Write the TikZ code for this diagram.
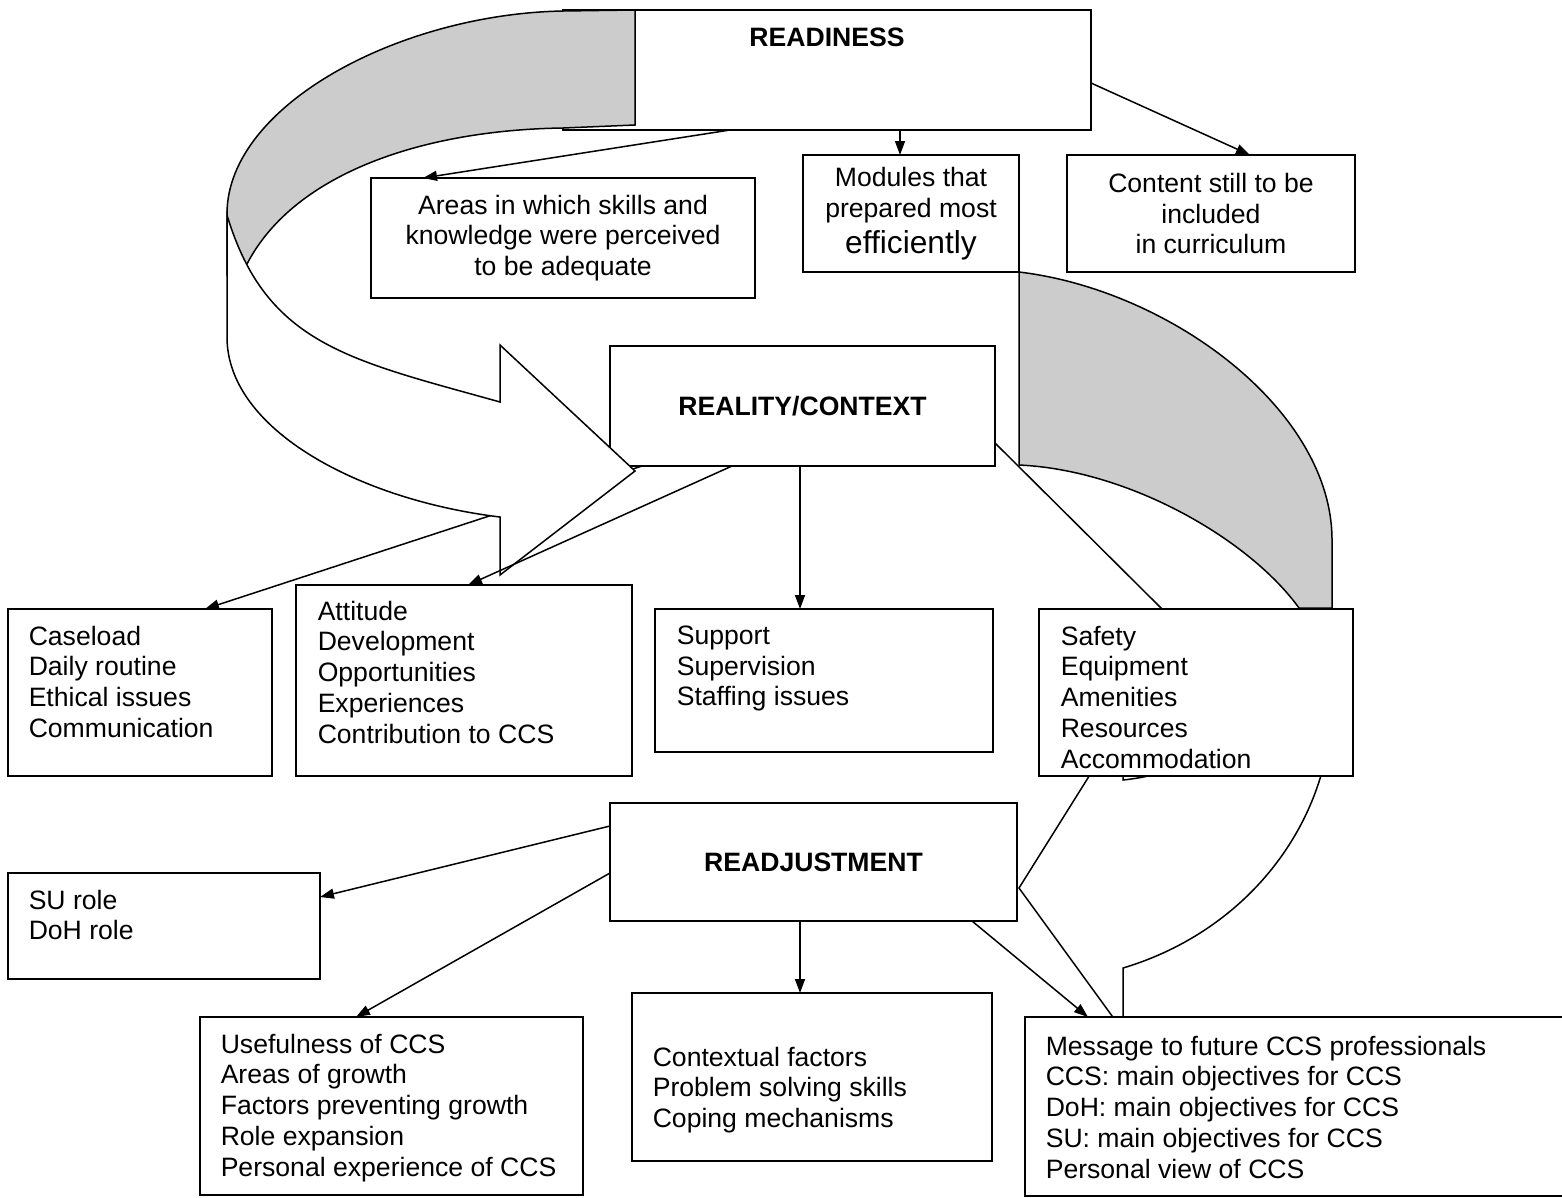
\documentclass[tikz,border=0pt]{standalone}
\usepackage{fontspec}
\setmainfont{Liberation Sans}
\usepackage{xcolor}
\usetikzlibrary{arrows.meta,positioning}
\pgfdeclarelayer{background}
\pgfdeclarelayer{foreground}
\pgfsetlayers{background,main,foreground}
\definecolor{bandgray}{gray}{0.8}
\newcommand{\txt}{\fontsize{26.6pt}{30.8pt}\selectfont}

\begin{document}
\begin{tikzpicture}[x=1pt, y=-1pt, line width=1.5pt,
  box/.style={draw, fill=white, inner sep=0pt, outer sep=0pt,
    align=center, font=\txt},
  hdr/.style={box, font=\txt\bfseries},
  list/.style={inner sep=0pt, align=left, font=\txt},
  arr/.style={line width=1.5pt, -{Triangle[length=14pt, width=10pt]}},
  band/.style={draw, line width=1.5pt, fill=bandgray},
  face/.style={draw, line width=1.5pt, fill=white},
]
  \useasboundingbox (0,0) rectangle (1562,1197);

  % top level
  \node[box, minimum width=528pt, minimum height=120pt] (rd) at (827,70) {};
  \node[font=\txt\bfseries, inner sep=0pt] (rdT) at ([yshift=-27pt]rd.north)
    {READINESS};
  \node[box, minimum width=384pt, minimum height=120pt] (areas) at (563,238)
    {Areas in which skills and\\knowledge were perceived\\to be adequate};
  \node[box, minimum width=216pt, minimum height=117pt] (mods) at (911,213.5)
    {Modules that\\prepared most\\[5pt]{\fontsize{31.7pt}{36pt}\selectfont efficiently}};
  \node[box, minimum width=288pt, minimum height=117pt] (cont) at (1211,213.5)
    {Content still to be\\included\\in curriculum};

  % middle level
  \node[hdr, minimum width=385pt, minimum height=120pt] (rc) at (802.5,406)
    {REALITY/CONTEXT};
  \node[box, minimum width=264pt, minimum height=167pt] (case) at (140,692.5) {};
  \node[list, below right=16pt and 20pt of case.north west] (caseT)
    {Caseload\\Daily routine\\Ethical issues\\Communication};
  \node[box, minimum width=336pt, minimum height=191pt] (att) at (464,680.5) {};
  \node[list, below right=15pt and 21pt of att.north west] (attT)
    {Attitude\\Development\\Opportunities\\Experiences\\Contribution to CCS};
  \node[box, minimum width=338pt, minimum height=143pt] (supp) at (824,680.5) {};
  \node[list, below right=16pt and 21pt of supp.north west] (suppT)
    {Support\\Supervision\\Staffing issues};
  \node[box, minimum width=314pt, minimum height=167pt] (safe) at (1196,692.5) {};
  \node[list, below right=16pt and 21pt of safe.north west] (safeT)
    {Safety\\Equipment\\Amenities\\Resources\\Accommodation};

  % bottom level
  \node[hdr, minimum width=407pt, minimum height=118pt] (readj) at (813.5,862)
    {READJUSTMENT};
  \node[box, minimum width=312pt, minimum height=106pt] (su) at (164,926) {};
  \node[list, below right=16pt and 20pt of su.north west] (suT)
    {SU role\\DoH role};
  \node[box, minimum width=383pt, minimum height=178pt] (usef) at (391.5,1106) {};
  \node[list, below right=16pt and 20pt of usef.north west] (usefT)
    {Usefulness of CCS\\Areas of growth\\Factors preventing growth\\Role expansion\\Personal experience of CCS};
  \node[box, minimum width=360pt, minimum height=168pt] (ctx) at (812,1077) {};
  \node[list, below right=53pt and 20pt of ctx.north west] (ctxT)
    {Contextual factors\\Problem solving skills\\Coping mechanisms};
  \node[box, minimum width=545pt, minimum height=179pt] (msg) at (1297.5,1106.5) {};
  \node[list, below right=18pt and 20pt of msg.north west] (msgT)
    {Message to future CCS professionals\\CCS: main objectives for CCS\\DoH: main objectives for CCS\\SU: main objectives for CCS\\Personal view of CCS};

  % connectors
  \draw[arr] ([xshift=-97pt]rd.south) -- ([xshift=-140pt]areas.north);
  \draw[arr] ([xshift=73pt]rd.south) -- ([xshift=-11pt]mods.north);
  \draw[arr] ([yshift=-13pt]rd.east) -- ([xshift=39pt]cont.north);
  \draw[arr] ([xshift=-2.5pt]rc.south) -- ([xshift=-24pt]supp.north);
  \draw ([yshift=-37pt]rc.east) -- ([xshift=-34pt]safe.north);
  \draw[arr] ([yshift=36pt]readj.west) -- ([yshift=29pt]su.east);
  \draw[arr] ([yshift=-11pt]readj.west) -- ([xshift=-35.5pt]usef.north);
  \draw[arr] ([xshift=-13.5pt]readj.south) -- ([xshift=-12pt]ctx.north);
  \draw[arr] ([xshift=158.5pt]readj.south) -- ([xshift=-209.5pt]msg.north);

  % right curved arrow, behind the boxes
  \begin{pgfonlayer}{background}
    \draw[arr] ([xshift=-160.5pt]rc.south) -- ([xshift=65pt]case.north);
    \path[face] (1332,612) -- (1332,700) .. controls (1332,820) and (1250,930) .. (1123,968)
      -- (1123,1031) -- (1019,888) -- (1123,722) -- (1123,780)
      .. controls (1220,770) and (1295,700) .. (1300,612) -- cycle;
    \path[band] (1019,272) .. controls (1170,290) and (1332,410) .. (1332,540)
      -- (1332,608) -- (1299,608) .. controls (1250,540) and (1130,470) .. (1019,465) -- cycle;
  \end{pgfonlayer}

  % left curved arrow, over the top boxes
  \begin{pgfonlayer}{foreground}
    \path[band] (635,10) -- (563,11) .. controls (400,14) and (228,105) .. (227,213)
      -- (227,275) -- (245,268) .. controls (290,175) and (420,130) .. (563,128)
      -- (635,125) -- cycle;
    \path[face] (227,215) .. controls (266,345) and (350,360) .. (500,402)
      -- (500,345) -- (635,471) -- (500,575) -- (500,517)
      .. controls (360,500) and (227,430) .. (227,337) -- cycle;
    \draw[arr] ([xshift=-70.5pt]rc.south) -- ([xshift=4pt]att.north);
  \end{pgfonlayer}
\end{tikzpicture}
\end{document}
